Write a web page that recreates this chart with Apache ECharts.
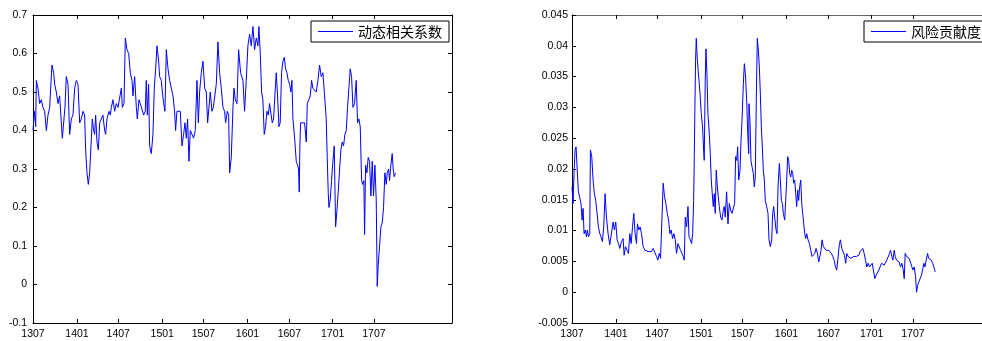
<!DOCTYPE html>
<html>
<head>
<meta charset="utf-8">
<title>动态相关系数与风险贡献度</title>
<script src="https://cdn.jsdelivr.net/npm/echarts@6/dist/echarts.min.js"></script>
<style>
  html, body { margin: 0; padding: 0; background: #fff; }
  #chart { width: 982px; height: 341px; }
</style>
</head>
<body>
<div id="chart"></div>
<script>
// x = months since 2013-07 (1307 = 0)
var tickPos = [0, 6.2, 12, 18.2, 24, 30.2, 36.1, 42.2, 48];
var tickLabels = ['1307', '1401', '1407', '1501', '1507', '1601', '1607', '1701', '1707'];

// 动态相关系数
var corrMonth = [0, 0.2, 0.38, 0.47, 0.7, 0.94, 1.17, 1.41, 1.64, 1.88, 2.11, 2.35, 2.49, 2.67, 2.91, 3.05, 3.28, 3.52, 3.75, 3.99,
  4.13, 4.32, 4.5, 4.69, 4.93, 5.07, 5.16, 5.4, 5.63, 5.87, 6.1, 6.34, 6.57, 6.8, 7.04, 7.27, 7.41, 7.6, 7.79, 7.98,
  8.21, 8.35, 8.54, 8.68, 8.82, 9.01, 9.2, 9.39, 9.62, 9.85, 10.09, 10.23, 10.42, 10.7, 10.89, 11.03, 11.26, 11.5, 11.73, 11.97,
  12.2, 12.44, 12.58, 12.81, 13, 13.23, 13.47, 13.7, 13.94, 14.08, 14.31, 14.55, 14.69, 14.92, 15.11, 15.35, 15.58, 15.81, 15.95, 16.1,
  16.28, 16.42, 16.66, 16.89, 17.08, 17.27, 17.46, 17.69, 17.83, 18.07, 18.21, 18.4, 18.58, 18.77, 19.01, 19.24, 19.47, 19.71, 19.94, 20.08,
  20.27, 20.51, 20.74, 20.98, 21.21, 21.4, 21.59, 21.77, 21.96, 22.15, 22.38, 22.62, 22.85, 23.09, 23.28, 23.46, 23.7, 23.93, 24.17, 24.4,
  24.59, 24.78, 24.96, 25.2, 25.39, 25.62, 25.81, 26.04, 26.28, 26.51, 26.75, 26.98, 27.12, 27.36, 27.55, 27.69, 27.92, 28.16, 28.3, 28.48,
  28.72, 28.95, 29.23, 29.56, 29.79, 30.03, 30.26, 30.5, 30.73, 30.97, 31.2, 31.44, 31.67, 31.81, 32, 32.19, 32.37, 32.56, 32.75, 32.94,
  33.13, 33.31, 33.55, 33.69, 33.88, 34.06, 34.25, 34.44, 34.63, 34.81, 35, 35.19, 35.38, 35.57, 35.75, 35.94, 36.13, 36.32, 36.46, 36.6,
  36.74, 36.88, 37.07, 37.26, 37.4, 37.49, 37.58, 37.68, 37.91, 38.24, 38.48, 38.62, 38.85, 39.04, 39.23, 39.41, 39.65, 39.88, 40.12, 40.35,
  40.59, 40.82, 41.06, 41.29, 41.43, 41.57, 41.67, 41.85, 42.04, 42.23, 42.42, 42.61, 42.79, 42.98, 43.17, 43.36, 43.54, 43.73, 43.92, 44.11,
  44.29, 44.48, 44.67, 44.86, 45.05, 45.28, 45.51, 45.7, 45.89, 46.08, 46.27, 46.41, 46.59, 46.69, 46.83, 47.02, 47.2, 47.39, 47.58, 47.77,
  47.95, 48.14, 48.33, 48.47, 48.61, 48.8, 48.99, 49.17, 49.36, 49.55, 49.74, 49.88, 50.07, 50.21, 50.39, 50.58, 50.72, 50.86, 51.05];
var corrValue = [0.40, 0.45, 0.41, 0.53, 0.51, 0.47, 0.48, 0.46, 0.45, 0.40, 0.44, 0.46, 0.51, 0.57, 0.55, 0.52, 0.50, 0.47, 0.49, 0.42,
  0.38, 0.38, 0.46, 0.54, 0.52, 0.44, 0.39, 0.43, 0.44, 0.51, 0.53, 0.52, 0.42, 0.43, 0.45, 0.44, 0.35, 0.29, 0.26, 0.29,
  0.29, 0.43, 0.40, 0.39, 0.44, 0.37, 0.35, 0.42, 0.42, 0.44, 0.40, 0.39, 0.43, 0.45, 0.44, 0.46, 0.48, 0.45, 0.47, 0.46,
  0.46, 0.51, 0.46, 0.47, 0.64, 0.61, 0.60, 0.55, 0.53, 0.49, 0.54, 0.46, 0.43, 0.48, 0.47, 0.47, 0.44, 0.45, 0.53, 0.44,
  0.52, 0.36, 0.34, 0.39, 0.51, 0.56, 0.62, 0.58, 0.54, 0.53, 0.50, 0.47, 0.45, 0.61, 0.56, 0.53, 0.53, 0.49, 0.45, 0.40,
  0.45, 0.45, 0.45, 0.36, 0.39, 0.42, 0.38, 0.43, 0.32, 0.40, 0.40, 0.38, 0.40, 0.53, 0.42, 0.50, 0.55, 0.58, 0.51, 0.50,
  0.42, 0.42, 0.50, 0.45, 0.46, 0.46, 0.52, 0.63, 0.55, 0.51, 0.46, 0.45, 0.42, 0.45, 0.44, 0.29, 0.33, 0.46, 0.51, 0.48,
  0.47, 0.61, 0.55, 0.53, 0.45, 0.53, 0.62, 0.65, 0.62, 0.67, 0.61, 0.64, 0.62, 0.67, 0.60, 0.50, 0.48, 0.39, 0.41, 0.45,
  0.44, 0.47, 0.47, 0.42, 0.43, 0.49, 0.55, 0.49, 0.41, 0.42, 0.55, 0.58, 0.59, 0.56, 0.55, 0.53, 0.52, 0.50, 0.53, 0.43,
  0.43, 0.37, 0.32, 0.31, 0.30, 0.24, 0.36, 0.42, 0.42, 0.42, 0.37, 0.47, 0.48, 0.49, 0.53, 0.51, 0.51, 0.50, 0.53, 0.57,
  0.54, 0.55, 0.49, 0.43, 0.33, 0.24, 0.20, 0.22, 0.27, 0.32, 0.36, 0.15, 0.19, 0.24, 0.30, 0.35, 0.37, 0.36, 0.39, 0.40,
  0.46, 0.51, 0.56, 0.54, 0.46, 0.47, 0.53, 0.42, 0.43, 0.41, 0.27, 0.26, 0.27, 0.13, 0.31, 0.29, 0.33, 0.32, 0.23, 0.32,
  0.23, 0.31, 0.22, -0.005, 0.05, 0.10, 0.15, 0.16, 0.20, 0.29, 0.26, 0.29, 0.30, 0.27, 0.31, 0.34, 0.30, 0.28, 0.29];

// 风险贡献度
var riskMonth = [0, 0.15, 0.29, 0.43, 0.57, 0.71, 0.9, 1.09, 1.27, 1.42, 1.56, 1.7, 1.89, 2.03, 2.17, 2.31, 2.5, 2.59, 2.78, 2.97,
  3.15, 3.34, 3.53, 3.72, 3.91, 4.09, 4.28, 4.47, 4.66, 4.85, 5.08, 5.32, 5.55, 5.79, 5.97, 6.16, 6.35, 6.54, 6.73, 6.96,
  7.2, 7.34, 7.53, 7.76, 7.95, 8.14, 8.33, 8.52, 8.7, 8.89, 9.08, 9.22, 9.41, 9.6, 9.79, 10.02, 10.26, 10.49, 10.73, 10.96,
  11.2, 11.43, 11.67, 11.9, 12.09, 12.28, 12.47, 12.66, 12.84, 13.03, 13.22, 13.41, 13.6, 13.78, 13.97, 14.16, 14.35, 14.54, 14.72, 14.91,
  15.1, 15.29, 15.48, 15.66, 15.81, 15.95, 16.14, 16.33, 16.47, 16.66, 16.84, 16.99, 17.13, 17.22, 17.31, 17.4, 17.5, 17.64, 17.78, 17.92,
  18.06, 18.2, 18.39, 18.53, 18.62, 18.76, 18.86, 19, 19.14, 19.33, 19.47, 19.61, 19.75, 19.89, 20.03, 20.17, 20.31, 20.46, 20.6, 20.74,
  20.93, 21.11, 21.3, 21.44, 21.58, 21.77, 21.96, 22.15, 22.34, 22.53, 22.71, 22.9, 23.04, 23.19, 23.33, 23.47, 23.66, 23.8, 23.94, 24.13,
  24.27, 24.41, 24.6, 24.74, 24.88, 24.92, 25.06, 25.2, 25.34, 25.53, 25.67, 25.81, 25.95, 26.09, 26.24, 26.38, 26.52, 26.66, 26.8, 26.94,
  27.08, 27.22, 27.41, 27.6, 27.74, 27.93, 28.12, 28.26, 28.4, 28.54, 28.73, 28.87, 29.01, 29.2, 29.34, 29.48, 29.62, 29.76, 29.95, 30.09,
  30.23, 30.37, 30.51, 30.65, 30.8, 30.94, 31.08, 31.22, 31.36, 31.5, 31.64, 31.78, 31.92, 32.06, 32.21, 32.35, 32.49, 32.63, 32.77, 32.91,
  33.05, 33.24, 33.43, 33.62, 33.8, 33.99, 34.18, 34.37, 34.56, 34.74, 34.93, 35.07, 35.21, 35.4, 35.59, 35.78, 35.97, 36.15, 36.34, 36.53,
  36.72, 36.91, 37.1, 37.28, 37.47, 37.66, 37.8, 37.99, 38.18, 38.36, 38.55, 38.69, 38.88, 39.07, 39.26, 39.45, 39.63, 39.82, 40.01, 40.2,
  40.39, 40.57, 40.76, 40.95, 41.14, 41.33, 41.51, 41.7, 41.89, 42.08, 42.27, 42.45, 42.64, 42.83, 43.02, 43.21, 43.39, 43.58, 43.77, 43.96,
  44.15, 44.33, 44.52, 44.71, 44.85, 45.04, 45.18, 45.37, 45.51, 45.7, 45.89, 46.07, 46.26, 46.45, 46.64, 46.78, 46.92, 47.11, 47.3, 47.48,
  47.67, 47.86, 48, 48.19, 48.38, 48.52, 48.66, 48.85, 49.04, 49.22, 49.41, 49.55, 49.69, 49.88, 50.07, 50.21, 50.4, 50.59, 50.78, 50.96, 51.15];
var riskValue = [0.0171, 0.0144, 0.0193, 0.0231, 0.0236, 0.0204, 0.0163, 0.016, 0.0144, 0.0117, 0.0136, 0.0095, 0.0101, 0.009, 0.0101, 0.009, 0.0095, 0.0231, 0.022, 0.0182,
  0.016, 0.0149, 0.0128, 0.0106, 0.0095, 0.009, 0.0082, 0.0106, 0.016, 0.0122, 0.0095, 0.0077, 0.0079, 0.0114, 0.0101, 0.0114, 0.0085, 0.0079, 0.0071, 0.0082,
  0.0087, 0.006, 0.0074, 0.0068, 0.0063, 0.0095, 0.0079, 0.0106, 0.0128, 0.0095, 0.0079, 0.0111, 0.0101, 0.0106, 0.0095, 0.0074, 0.0068, 0.0066, 0.0066, 0.0063,
  0.0066, 0.0071, 0.0068, 0.0058, 0.0052, 0.0063, 0.0055, 0.0055, 0.0177, 0.0155, 0.0144, 0.0128, 0.0117, 0.0095, 0.0101, 0.0087, 0.0095, 0.0085, 0.0063, 0.0079,
  0.0082, 0.0068, 0.0063, 0.0058, 0.0052, 0.0122, 0.0106, 0.0139, 0.009, 0.0085, 0.0079, 0.0095, 0.0149, 0.022, 0.0301, 0.0376, 0.0412, 0.0379, 0.0358, 0.0339,
  0.0317, 0.029, 0.0268, 0.0231, 0.0214, 0.0344, 0.0395, 0.0355, 0.029, 0.0258, 0.0225, 0.0182, 0.016, 0.0139, 0.016, 0.0128, 0.0198, 0.0171, 0.0155, 0.0139,
  0.0122, 0.0117, 0.0133, 0.0139, 0.0122, 0.0163, 0.0111, 0.0144, 0.0133, 0.0128, 0.0128, 0.0144, 0.022, 0.0214, 0.0236, 0.0182, 0.0198, 0.0247, 0.0279, 0.0339,
  0.0371, 0.0355, 0.0312, 0.0258, 0.0225, 0.0306, 0.0279, 0.0214, 0.0204, 0.0193, 0.0171, 0.0187, 0.0312, 0.0412, 0.0393, 0.0366, 0.0322, 0.0268, 0.0236, 0.0198,
  0.0182, 0.0149, 0.0139, 0.0128, 0.0085, 0.0074, 0.0085, 0.0128, 0.0139, 0.0122, 0.0101, 0.0095, 0.0171, 0.0209, 0.0182, 0.0149, 0.0144, 0.0128, 0.0117, 0.0149,
  0.0182, 0.022, 0.0214, 0.0193, 0.0187, 0.0198, 0.0193, 0.0177, 0.0182, 0.016, 0.0139, 0.0166, 0.0149, 0.0171, 0.0182, 0.0144, 0.0128, 0.0111, 0.0095, 0.0087,
  0.0095, 0.0085, 0.0079, 0.0068, 0.0058, 0.0058, 0.0063, 0.0071, 0.0063, 0.0049, 0.0047, 0.0068, 0.0085, 0.0074, 0.0071, 0.0068, 0.0066, 0.0068, 0.0071, 0.0063,
  0.0058, 0.0052, 0.0041, 0.0036, 0.0036, 0.0079, 0.0085, 0.0071, 0.0068, 0.006, 0.0047, 0.0063, 0.0058, 0.0058, 0.0055, 0.0058, 0.0058, 0.0055, 0.0058, 0.0058,
  0.006, 0.0066, 0.0063, 0.0071, 0.0063, 0.0052, 0.0041, 0.0047, 0.0041, 0.0044, 0.0047, 0.0049, 0.0022, 0.0028, 0.003, 0.0036, 0.0036, 0.0047, 0.0049, 0.0044,
  0.0047, 0.0052, 0.0055, 0.0063, 0.0068, 0.0058, 0.0052, 0.0068, 0.0058, 0.0052, 0.0055, 0.0049, 0.0041, 0.0047, 0.0036, 0.0022, 0.0063, 0.0058, 0.0058, 0.0055,
  0.0052, 0.0041, 0.0036, 0.0041, 0.0025, 0.0, 0.0011, 0.0017, 0.0019, 0.0028, 0.0039, 0.0047, 0.0041, 0.0052, 0.0063, 0.0055, 0.0052, 0.0052, 0.0047, 0.0041, 0.0033];

function zip(xs, ys) {
  var out = [];
  for (var i = 0; i < xs.length; i++) out.push([xs[i], ys[i]]);
  return out;
}

var chart = echarts.init(document.getElementById('chart'));

function lineOf(color) {
  return { show: true, onZero: false, lineStyle: { color: color, width: 1 } };
}
var labelFont = { color: '#000', fontSize: 10.5, fontFamily: 'Liberation Sans, Arial, sans-serif' };

// 横轴：下方带标签，上方只画刻度
function xAxes(grid, topColor) {
  return [
    {
      type: 'value', gridIndex: grid, position: 'bottom', min: 0, max: 59,
      axisLine: lineOf('#000'),
      axisTick: { show: true, inside: true, length: 4, customValues: tickPos, lineStyle: { color: '#000' } },
      axisLabel: Object.assign({
        margin: 6, customValues: tickPos,
        formatter: function (v) {
          var best = 0;
          for (var i = 1; i < tickPos.length; i++) {
            if (Math.abs(tickPos[i] - v) < Math.abs(tickPos[best] - v)) best = i;
          }
          return tickLabels[best];
        }
      }, labelFont),
      splitLine: { show: false }
    },
    {
      type: 'value', gridIndex: grid, position: 'top', min: 0, max: 59,
      axisLine: lineOf(topColor),
      axisTick: { show: true, inside: true, length: 4, customValues: tickPos, lineStyle: { color: '#000' } },
      axisLabel: { show: false },
      splitLine: { show: false }
    }
  ];
}

// 纵轴：左侧带标签，右侧只画刻度
function yAxes(grid, min, max, step, margin) {
  return [
    {
      type: 'value', gridIndex: grid, position: 'left', min: min, max: max, interval: step,
      axisLine: lineOf('#000'),
      axisTick: { show: true, inside: true, length: 4, lineStyle: { color: '#000' } },
      axisLabel: Object.assign({ margin: margin }, labelFont),
      splitLine: { show: false }
    },
    {
      type: 'value', gridIndex: grid, position: 'right', min: min, max: max, interval: step,
      axisLine: lineOf('#000'),
      axisTick: { show: true, inside: true, length: 4, lineStyle: { color: '#000' } },
      axisLabel: { show: false },
      splitLine: { show: false }
    }
  ];
}

var legendBase = {
  orient: 'horizontal',
  icon: 'rect',
  itemWidth: 35,
  itemHeight: 1,
  itemGap: 4,
  padding: [3, 7],
  borderColor: '#000',
  borderWidth: 1,
  borderRadius: 0,
  backgroundColor: '#fff',
  textStyle: { color: '#000', fontSize: 14, lineHeight: 15, fontFamily: 'Noto Sans CJK SC' }
};

var option = {
  animation: false,
  backgroundColor: '#fff',
  grid: [
    { left: 33, top: 15, width: 419, height: 308, outerBoundsMode: 'none', containLabel: false },
    { left: 572, top: 15, width: 419, height: 308, outerBoundsMode: 'none', containLabel: false }
  ],
  legend: [
    Object.assign({ data: ['动态相关系数'], left: 311, top: 21 }, legendBase),
    Object.assign({ data: ['风险贡献度'], left: 864, top: 21 }, legendBase)
  ],
  xAxis: xAxes(0, '#000').concat(xAxes(1, '#666')),
  yAxis: yAxes(0, -0.1, 0.7, 0.1, 6).concat(yAxes(1, -0.005, 0.045, 0.005, 4)),
  series: [
    {
      name: '动态相关系数', type: 'line', xAxisIndex: 0, yAxisIndex: 0,
      symbol: 'none', showSymbol: false,
      lineStyle: { color: '#0000ff', width: 1 }, itemStyle: { color: '#0000ff' },
      data: zip(corrMonth, corrValue)
    },
    {
      name: '风险贡献度', type: 'line', xAxisIndex: 2, yAxisIndex: 2,
      symbol: 'none', showSymbol: false,
      lineStyle: { color: '#0000ff', width: 1 }, itemStyle: { color: '#0000ff' },
      data: zip(riskMonth, riskValue)
    }
  ]
};

chart.setOption(option);
</script>
</body>
</html>
